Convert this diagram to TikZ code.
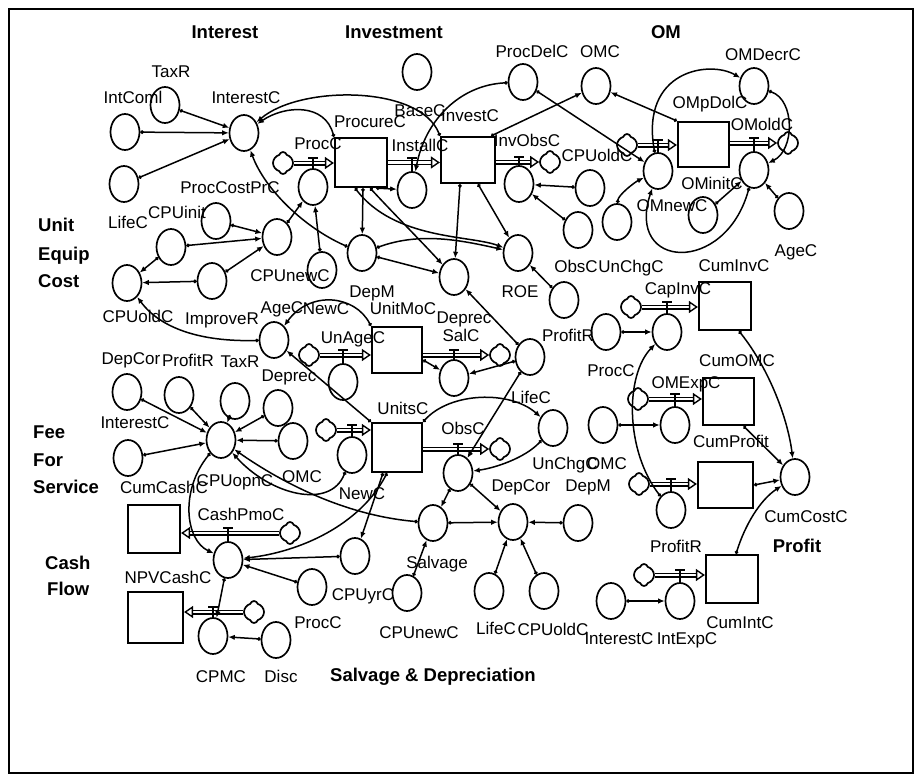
\documentclass[tikz,border=0pt]{standalone}
\usepackage{fontspec}
\setmainfont{Liberation Sans}
\usetikzlibrary{shapes.geometric,shapes.symbols,arrows.meta}
\begin{document}
\begin{tikzpicture}[x=1pt,y=-1pt,
  cv/.style={draw, ellipse, line width=1.7pt, minimum width=29pt, minimum height=36pt, inner sep=0pt},
  sk/.style={draw, rectangle, line width=2.2pt, minimum width=52pt, minimum height=48pt, inner sep=0pt},
  cl/.style={draw, cloud, cloud puffs=4, aspect=1, line width=1.7pt, minimum width=20pt, minimum height=22pt, inner sep=0pt, fill=white},
  lb/.style={font=\fontsize{17}{17}\selectfont, inner sep=0pt, text height=12.2pt, text depth=0pt},
  sc/.style={font=\bfseries\fontsize{18.5}{18.5}\selectfont, inner sep=0pt, text height=13.2pt, text depth=0pt},
  cn/.style={line width=1.5pt, {Circle[open,length=3.5pt,width=3.5pt]}-{Latex[length=6.5pt,width=5.5pt]}},
  pp/.style={line width=1.4pt, double=white, double distance=2.2pt, -{Triangle[open,length=9pt,width=12pt]}},
  vt/.style={line width=1.7pt}]
\useasboundingbox (0,0) rectangle (916,776);
\draw[line width=2pt] (9,9) rectangle (913,773);

% section headings
\node[sc] (hInt) at (225,32) {Interest};
\node[sc] (hInv) at (394,32) {Investment};
\node[sc] (hOM) at (666,32) {OM};
\node[sc,anchor=west] (hUnit) at (38,225) {Unit};
\node[sc,anchor=west] (hEquip) at (38,254) {Equip};
\node[sc,anchor=west] (hCost) at (38,281) {Cost};
\node[sc,anchor=west] (hFee) at (33,432) {Fee};
\node[sc,anchor=west] (hFor) at (33,460) {For};
\node[sc,anchor=west] (hServ) at (33,487) {Service};
\node[sc,anchor=west] (hCash) at (45,563) {Cash};
\node[sc,anchor=west] (hFlow) at (47,589) {Flow};
\node[sc] (hSalv) at (433,675) {Salvage \& Depreciation};
\node[sc] (hProf) at (797,546) {Profit};

% Interest
\node[cv] (TaxRa) at (165,105) {};
\node[lb] (tTaxRa) at (171,71) {TaxR};
\node[cv] (IntComl) at (125,132) {};
\node[lb] (tIntComl) at (133,97) {IntComl};
\node[cv] (LifeCa) at (124,184) {};
\node[lb] (tLifeCa) at (128,222) {LifeC};
\node[cv] (InterestCa) at (244,133) {};
\node[lb] (tInterestCa) at (246,97) {InterestC};

% Investment
\node[cv] (BaseC) at (417,72) {};
\node[lb] (tBaseC) at (420,110) {BaseC};
\node[sk, minimum height=49pt] (ProcureC) at (361,162.5) {};
\node[lb] (tProcureC) at (370,121) {ProcureC};
\node[cl] (cProc) at (283,163) {};
\node[cv] (ProcCv) at (313,187) {};
\node[lb] (tProcCv) at (318,143) {ProcC};
\node[cv] (InstallCv) at (412,190) {};
\node[lb] (tInstallCv) at (420,145) {InstallC};
\node[sk, minimum width=54pt, minimum height=46pt] (InvestC) at (468,160) {};
\node[lb] (tInvestC) at (470,115) {InvestC};
\node[cv] (InvObsCv) at (519,184) {};
\node[lb] (tInvObsCv) at (527,140) {InvObsC};
\node[cl] (cInvObs) at (550,162) {};
\node[cv] (ProcDelC) at (523,82) {};
\node[lb] (tProcDelC) at (532,51) {ProcDelC};
\node[cv] (OMCa) at (596,86) {};
\node[lb] (tOMCa) at (600,51) {OMC};
\node[cv] (CPUoldCb) at (590,188) {};
\node[lb] (tCPUoldCb) at (597,155) {CPUoldC};
\node[cv] (ObsCc) at (578,230) {};
\node[cv] (UnChgCa) at (617,222) {};
\node[lb] (tObsCc) at (576,266) {ObsC};
\node[lb] (tUnChgCa) at (631,266) {UnChgC};

% OM
\node[sk, minimum width=51pt, minimum height=45pt] (OMbox) at (703.5,144.5) {};
\node[lb] (tOMbox) at (710,102) {OMpDolC};
\node[cl] (cOMnew) at (627,145) {};
\node[cv] (OMnewCv) at (658,171) {};
\node[lb] (tOMnewCv) at (672,205) {OMnewC};
\node[cl] (cOMold) at (788,143) {};
\node[cv] (OMoldCv) at (754,170) {};
\node[lb] (tOMoldCv) at (762,124) {OMoldC};
\node[cv] (OMDecrC) at (754,86) {};
\node[lb] (tOMDecrC) at (763,54) {OMDecrC};
\node[cv] (OMinitC) at (703,215) {};
\node[lb] (tOMinitC) at (712,183) {OMinitC};
\node[cv] (AgeCc) at (789,211) {};
\node[lb] (tAgeCc) at (796,250) {AgeC};

% Unit equip cost
\node[cv] (CPUinit) at (171,247) {};
\node[lb] (tCPUinit) at (177,212) {CPUinit};
\node[cv] (ProcCostPrC) at (216,221) {};
\node[lb] (tProcCostPrC) at (230,187) {ProcCostPrC};
\node[cv] (CPUnewCa) at (277,237) {};
\node[lb] (tCPUnewCa) at (290,275) {CPUnewC};
\node[cv] (CircX) at (322,270) {};
\node[cv] (CPUoldCa) at (127,283) {};
\node[lb] (tCPUoldCa) at (138,316) {CPUoldC};
\node[cv] (ImproveR) at (212,281) {};
\node[lb] (tImproveR) at (222,318) {ImproveR};

% middle
\node[cv] (DepMa) at (362,253) {};
\node[lb] (tDepMa) at (372,291) {DepM};
\node[cv] (Deprecb) at (454,277) {};
\node[lb] (tDeprecb) at (464,317) {Deprec};
\node[cv] (ROE) at (518,253) {};
\node[lb] (tROE) at (520,291) {ROE};
\node[cv] (ProfitRb) at (564,300) {};
\node[lb] (tProfitRb) at (568,335) {ProfitR};
\node[cv] (AgeCa) at (274,340) {};
\node[lb] (tAgeCa) at (282,307) {AgeC};
\node[lb] (tNewCa) at (326,308) {NewC};
\node[sk, minimum width=50pt, minimum height=46pt] (UnitMoC) at (397,350) {};
\node[lb] (tUnitMoC) at (403,308) {UnitMoC};
\node[cl] (cUnAge) at (309,355) {};
\node[cv] (UnAgeCv) at (343,382) {};
\node[lb] (tUnAgeCv) at (353,337) {UnAgeC};
\node[cl] (cSal) at (500,355) {};
\node[cv] (SalCv) at (454,378) {};
\node[lb] (tSalCv) at (461,335) {SalC};
\node[cv] (LifeCb) at (530,357) {};
\node[lb] (tLifeCb) at (531,397) {LifeC};
\node[cv] (ProcCb) at (606,332) {};
\node[lb] (tProcCb) at (611,370) {ProcC};

% fee for service
\node[cv] (DepCora) at (127,392) {};
\node[lb] (tDepCora) at (131,358) {DepCor};
\node[cv] (ProfitRa) at (179,395) {};
\node[lb] (tProfitRa) at (188,360) {ProfitR};
\node[cv] (TaxRb) at (235,401) {};
\node[lb] (tTaxRb) at (240,361) {TaxR};
\node[cv] (Deprecc) at (278,408) {};
\node[lb] (tDeprecc) at (289,375) {Deprec};
\node[cv] (OMCb) at (293,441) {};
\node[lb] (tOMCb) at (302,476) {OMC};
\node[cv] (InterestCb) at (128,458) {};
\node[lb] (tInterestCb) at (135,422) {InterestC};
\node[cv] (CPUopnC) at (221,440) {};
\node[lb] (tCPUopnC) at (235,480) {CPUopnC};

% UnitsC
\node[sk, minimum width=50pt, minimum height=49pt] (UnitsC) at (397,447.5) {};
\node[lb] (tUnitsC) at (403,408) {UnitsC};
\node[cl] (cNew) at (326,430) {};
\node[cv] (NewCv) at (352,455) {};
\node[lb] (tNewCv) at (362,493) {NewC};
\node[cl] (cObs) at (500,449) {};
\node[cv] (ObsCv) at (458,473) {};
\node[lb] (tObsCv) at (463,428) {ObsC};
\node[cv] (UnChgCb) at (553,428) {};
\node[lb] (tUnChgCb) at (565,463) {UnChgC};
\node[cv] (OMCc) at (603,425) {};
\node[lb] (tOMCc) at (607,463) {OMC};

% salvage & depreciation
\node[cv] (Salvage) at (433,523) {};
\node[lb] (tSalvage) at (437,562) {Salvage};
\node[cv] (DepCorb) at (513,522) {};
\node[lb] (tDepCorb) at (521,485) {DepCor};
\node[cv] (DepMb) at (578,523) {};
\node[lb] (tDepMb) at (588,485) {DepM};
\node[cv] (CPUnewCb) at (407,593) {};
\node[lb] (tCPUnewCb) at (419,632) {CPUnewC};
\node[cv] (LifeCc) at (489,591) {};
\node[lb] (tLifeCc) at (496,628) {LifeC};
\node[cv] (CPUoldCc) at (544,591) {};
\node[lb] (tCPUoldCc) at (553,629) {CPUoldC};

% cash flow
\node[sk] (CumCashC) at (154,529) {};
\node[lb] (tCumCashC) at (164,487) {CumCashC};
\node[cl] (cCash) at (290,533) {};
\node[cv] (CashPmoCv) at (228,560) {};
\node[lb] (tCashPmoCv) at (241,514) {CashPmoC};
\node[cv] (CPUyrC) at (355,556) {};
\node[lb] (tCPUyrC) at (363,594) {CPUyrC};
\node[cv] (ProcCc) at (312,587) {};
\node[lb] (tProcCc) at (318,622) {ProcC};
\node[sk, minimum width=55pt, minimum height=51pt] (NPVCashC) at (155.5,617.5) {};
\node[lb] (tNPVCashC) at (168,577) {NPVCashC};
\node[cl] (cCPM) at (254,612) {};
\node[cv] (CPMCv) at (213,636) {};
\node[lb] (tCPMCv) at (221,676) {CPMC};
\node[cv] (Disc) at (276,640) {};
\node[lb] (tDisc) at (281,676) {Disc};

% profit
\node[sk] (CumInvC) at (725,306) {};
\node[lb] (tCumInvC) at (734,265) {CumInvC};
\node[cl] (cCapInv) at (631,307) {};
\node[cv] (CapInvCv) at (667,332) {};
\node[lb] (tCapInvCv) at (678,288) {CapInvC};
\node[sk, minimum width=51pt, minimum height=47pt] (CumOMC) at (728.5,401.5) {};
\node[lb] (tCumOMC) at (737,360) {CumOMC};
\node[cl] (cOMExp) at (638,399) {};
\node[cv] (OMExpCv) at (675,425) {};
\node[lb] (tOMExpCv) at (686,382) {OMExpC};
\node[sk, minimum width=55pt, minimum height=46pt] (CumProfit) at (725.5,485) {};
\node[lb] (tCumProfit) at (731,441) {CumProfit};
\node[cl] (cProfit) at (639,484) {};
\node[cv] (ProfitRv) at (671,510) {};
\node[lb] (tProfitRv) at (676,546) {ProfitR};
\node[sk] (CumIntC) at (732,579) {};
\node[lb] (tCumIntC) at (740,622) {CumIntC};
\node[cl] (cIntExp) at (644,575) {};
\node[cv] (IntExpCv) at (680,601) {};
\node[lb] (tIntExpCv) at (687,638) {IntExpC};
\node[cv] (InterestCc) at (611,601) {};
\node[lb] (tInterestCc) at (619,638) {InterestC};
\node[cv] (CumCostC) at (795,477) {};
\node[lb] (tCumCostC) at (806,516) {CumCostC};

% flow pipes
\draw[pp] (cProc) -- (ProcureC.west |- cProc);
\draw[pp] (ProcureC.east) -- (InvestC.west |- ProcureC.east);
\draw[pp] (InvestC.east |- cInvObs) -- (cInvObs);
\draw[pp] (cOMnew) -- (OMbox.west |- cOMnew);
\draw[pp] (OMbox.east |- cOMold) -- (cOMold);
\draw[pp] (cUnAge) -- (UnitMoC.west |- cUnAge);
\draw[pp] (UnitMoC.east |- cSal) -- (cSal);
\draw[pp] (cNew) -- (UnitsC.west |- cNew);
\draw[pp] (UnitsC.east |- cObs) -- (cObs);
\draw[pp] (cCash) -- (CumCashC.east |- cCash);
\draw[pp] (cCPM) -- (NPVCashC.east |- cCPM);
\draw[pp] (cCapInv) -- (CumInvC.west |- cCapInv);
\draw[pp] (cOMExp) -- (CumOMC.west |- cOMExp);
\draw[pp] (cProfit) -- (CumProfit.west |- cProfit);
\draw[pp] (cIntExp) -- (CumIntC.west |- cIntExp);

% valve stems
\draw[vt] (ProcCv.north) -- ++(0,-10) ++(-5,0) -- ++(10,0);
\draw[vt] (InstallCv.north) -- ++(0,-13) ++(-5,0) -- ++(10,0);
\draw[vt] (InvObsCv.north) -- ++(0,-8) ++(-5,0) -- ++(10,0);
\draw[vt] (OMnewCv.north) -- ++(0,-12) ++(-5,0) -- ++(10,0);
\draw[vt] (OMoldCv.north) -- ++(0,-13) ++(-5,0) -- ++(10,0);
\draw[vt] (UnAgeCv.north) -- ++(0,-13) ++(-5,0) -- ++(10,0);
\draw[vt] (SalCv.north) -- ++(0,-9) ++(-5,0) -- ++(10,0);
\draw[vt] (NewCv.north) -- ++(0,-11) ++(-5,0) -- ++(10,0);
\draw[vt] (ObsCv.north) -- ++(0,-10) ++(-5,0) -- ++(10,0);
\draw[vt] (CashPmoCv.north) -- ++(0,-13) ++(-5,0) -- ++(10,0);
\draw[vt] (CPMCv.north) -- ++(0,-10) ++(-5,0) -- ++(10,0);
\draw[vt] (CapInvCv.north) -- ++(0,-11) ++(-5,0) -- ++(10,0);
\draw[vt] (OMExpCv.north) -- ++(0,-12) ++(-5,0) -- ++(10,0);
\draw[vt] (ProfitRv.north) -- ++(0,-12) ++(-5,0) -- ++(10,0);
\draw[vt] (IntExpCv.north) -- ++(0,-12) ++(-5,0) -- ++(10,0);

% connectors
\draw[cn] (TaxRa) -- (InterestCa);
\draw[cn] (IntComl) -- (InterestCa);
\draw[cn] (LifeCa) -- (InterestCa);
\draw[cn] (ProcureC.north west) .. controls (325,103) and (285,105) .. (InterestCa);
\draw[cn] (InvestC.north west) .. controls (420,85) and (300,85) .. (InterestCa);
\draw[cn] (DepMa) .. controls (305,228) and (265,190) .. (InterestCa);
\draw[cn] (ProcDelC) .. controls (460,85) and (425,120) .. (InstallCv);
\draw[cn] ([xshift=-5pt]InvestC.north east) -- (OMCa);
\draw[cn] (OMbox.north west) -- (OMCa);
\draw[cn] (ProcDelC) -- (OMnewCv);
\draw[cn] (CPUoldCb) -- (InvObsCv);
\draw[cn] (ObsCc) -- (InvObsCv);
\draw[cn] (UnChgCa) .. controls (618,195) and (635,182) .. (OMnewCv);
\draw[cn] (OMnewCv) .. controls (640,70) and (710,60) .. (OMDecrC);
\draw[cn] (OMDecrC) .. controls (795,100) and (795,150) .. (OMoldCv);
\draw[cn] (OMoldCv) .. controls (725,275) and (625,270) .. (OMnewCv);
\draw[cn] (OMinitC) -- (OMoldCv);
\draw[cn] (AgeCc) -- (OMoldCv);
\draw[cn] (CPUnewCa) -- (ProcCv);
\draw[cn] (CircX) -- (ProcCv);
\draw[cn] ([xshift=-12pt]ProcureC.south east) -- (InstallCv);
\draw[cn] ([xshift=2pt]ProcureC.south) -- (DepMa);
\draw[cn] ([xshift=-6pt]ProcureC.south) .. controls (395,240) and (470,235) .. (ROE);
\draw[cn] ([xshift=-18pt]ProcureC.south east) .. controls (395,215) and (420,240) .. (Deprecb);
\draw[cn] (DepMa) .. controls (420,232) and (460,240) .. (ROE);
\draw[cn] ([xshift=10pt]InvestC.south) -- (ROE);
\draw[cn] ([xshift=-8pt]InvestC.south) -- (Deprecb);
\draw[cn] (DepMa) -- (Deprecb);
\draw[cn] (ProfitRb) -- (ROE);
\draw[cn] (CPUinit) -- (CPUoldCa);
\draw[cn] (CPUinit) -- (CPUnewCa);
\draw[cn] (ProcCostPrC) -- (CPUnewCa);
\draw[cn] (ImproveR) -- (CPUoldCa);
\draw[cn] (ImproveR) -- (CPUnewCa);
\draw[cn] (AgeCa) .. controls (200,342) and (160,328) .. (CPUoldCa);
\draw[cn] (UnitMoC.north west) .. controls (355,295) and (310,290) .. (AgeCa);
\draw[cn] (UnitsC.north west) -- (AgeCa);
\draw[cn] ([yshift=-10pt]UnitMoC.east) -- (SalCv);
\draw[cn] (LifeCb) -- (SalCv);
\draw[cn] (LifeCb) -- (Deprecb);
\draw[cn] (LifeCb) -- (ObsCv);
\draw[cn] (UnitsC.north east) .. controls (450,392) and (510,390) .. (UnChgCb);
\draw[cn] (UnChgCb) .. controls (525,458) and (495,468) .. (ObsCv);
\draw[cn] (ObsCv) -- (Salvage);
\draw[cn] (ObsCv) -- (DepCorb);
\draw[cn] (Salvage) -- (DepCorb);
\draw[cn] (DepMb) -- (DepCorb);
\draw[cn] (LifeCc) -- (DepCorb);
\draw[cn] (CPUoldCc) -- (DepCorb);
\draw[cn] (CPUnewCb) -- (Salvage);
\draw[cn] (Salvage) .. controls (340,515) and (275,478) .. (CPUopnC);
\draw[cn] (NewCv) .. controls (330,510) and (270,495) .. (CPUopnC);
\draw[cn] ([xshift=-14pt]UnitsC.south) -- (CPUyrC);
\draw[cn] ([xshift=-10pt]UnitsC.south) .. controls (360,525) and (300,552) .. (CashPmoCv);
\draw[cn] (CPUopnC) .. controls (180,490) and (185,540) .. (CashPmoCv);
\draw[cn] (CPUyrC) -- (CashPmoCv);
\draw[cn] (ProcCc) -- (CashPmoCv);
\draw[cn] (CashPmoCv) -- (CPMCv);
\draw[cn] (Disc) -- (CPMCv);
\draw[cn] (DepCora) -- (CPUopnC);
\draw[cn] (ProfitRa) -- (CPUopnC);
\draw[cn] (TaxRb) -- (CPUopnC);
\draw[cn] (Deprecc) -- (CPUopnC);
\draw[cn] (OMCb) -- (CPUopnC);
\draw[cn] (InterestCb) -- (CPUopnC);
\draw[cn] (ProcCb) -- (CapInvCv);
\draw[cn] (OMCc) -- (OMExpCv);
\draw[cn] (InterestCc) -- (IntExpCv);
\draw[cn] ([xshift=14pt]CumInvC.south) .. controls (770,370) and (788,420) .. (CumCostC);
\draw[cn] ([xshift=15pt]CumOMC.south) -- (CumCostC);
\draw[cn] (CumProfit.east) -- (CumCostC);
\draw[cn] ([xshift=4pt]CumIntC.north) .. controls (745,525) and (760,500) .. (CumCostC);
\draw[cn] (ProfitRv) .. controls (625,450) and (625,375) .. (CapInvCv);
\end{tikzpicture}
\end{document}
